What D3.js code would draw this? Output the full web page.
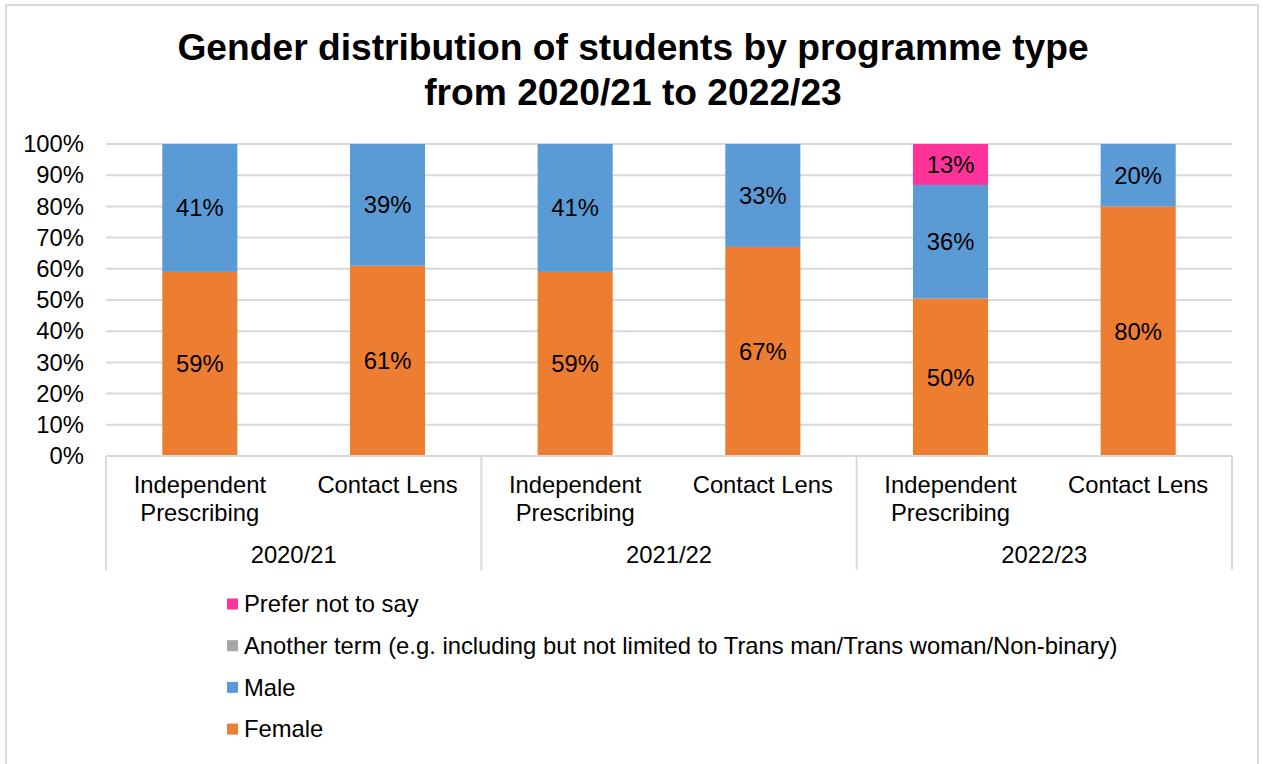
<!DOCTYPE html>
<html>
<head>
<meta charset="utf-8">
<script src="https://cdn.jsdelivr.net/npm/d3@7"></script>
<style>
  html, body { margin: 0; padding: 0; background: #fff; }
  svg { display: block; font-family: "Liberation Sans", Arial, sans-serif; }
</style>
</head>
<body>
<svg id="chart" width="1263" height="764"></svg>
<script>
// Chart data
const titleLines = ["Gender distribution of students by programme type", "from 2020/21 to 2022/23"];
const years = ["2020/21", "2021/22", "2022/23"];
const programmes = [["Independent", "Prescribing"], ["Contact Lens"]];
const female = [59, 61, 59, 67, 50, 80];
const male = [41, 39, 41, 33, 36, 20];
const anotherTerm = [0, 0, 0, 0, 0, 0];
const preferNotToSay = [0, 0, 0, 0, 13, 0];
const seriesNames = ["Female", "Male", "Another term (e.g. including but not limited to Trans man/Trans woman/Non-binary)", "Prefer not to say"];
const seriesColors = ["#ED7D31", "#5B9BD5", "#A5A5A5", "#FF3399"];
const yTicks = [0, 0.1, 0.2, 0.3, 0.4, 0.5, 0.6, 0.7, 0.8, 0.9, 1];

// One row per bar (year x programme)
const rows = [];
years.forEach((yr, yi) => {
  programmes.forEach((prog, pi) => {
    const i = yi * programmes.length + pi;
    rows.push({
      id: i, year: yr, programme: prog,
      [seriesNames[0]]: female[i],
      [seriesNames[1]]: male[i],
      [seriesNames[2]]: anotherTerm[i],
      [seriesNames[3]]: preferNotToSay[i]
    });
  });
});

const svg = d3.select("#chart");
const plotLeft = 106, plotRight = 1232, plotTop = 144, plotBottom = 456;
const gridColor = "#d9d9d9";
const fontSize = 23.8;

// Outer frame
svg.append("rect")
  .attr("x", 6).attr("y", 5).attr("width", 1252).attr("height", 800)
  .attr("fill", "#fff").attr("stroke", gridColor).attr("stroke-width", 2);

// Title
svg.append("g").selectAll("text").data(titleLines).join("text")
  .attr("x", 633).attr("y", (d, i) => 60 + i * 45)
  .attr("text-anchor", "middle")
  .attr("font-weight", "bold").attr("font-size", 37.2).attr("fill", "#000")
  .text(d => d);

const x = d3.scaleBand().domain(rows.map(r => r.id)).range([plotLeft, plotRight])
  .paddingInner(0.6).paddingOuter(0.3);
const y = d3.scaleLinear().domain([0, 1]).range([plotBottom, plotTop]);

// Gridlines
svg.append("g").selectAll("line").data(yTicks.slice(1)).join("line")
  .attr("x1", plotLeft).attr("x2", plotRight)
  .attr("y1", d => y(d)).attr("y2", d => y(d))
  .attr("stroke", gridColor).attr("stroke-width", 2);

// Y axis labels
const yAxis = d3.axisLeft(y).tickValues(yTicks).tickFormat(d3.format(".0%")).tickSize(0).tickPadding(22);
const yg = svg.append("g").attr("transform", `translate(${plotLeft},0)`).call(yAxis);
yg.select(".domain").remove();
yg.selectAll("text").attr("font-size", fontSize).attr("fill", "#000")
  .attr("font-family", "Liberation Sans, Arial, sans-serif");

// 100% stacked bars
const stack = d3.stack().keys(seriesNames).offset(d3.stackOffsetExpand);
const layers = stack(rows);

const layerG = svg.append("g").selectAll("g").data(layers).join("g")
  .attr("fill", (d, i) => seriesColors[i]);
layerG.selectAll("rect").data(d => d.filter(s => s[1] > s[0])).join("rect")
  .attr("x", d => x(d.data.id))
  .attr("width", x.bandwidth())
  .attr("y", d => y(d[1]))
  .attr("height", d => y(d[0]) - y(d[1]));

// Data labels
const labelG = svg.append("g");
layers.forEach(layer => {
  labelG.append("g").selectAll("text").data(layer.filter(s => s[1] > s[0])).join("text")
    .attr("x", d => x(d.data.id) + x.bandwidth() / 2)
    .attr("y", d => (y(d[0]) + y(d[1])) / 2)
    .attr("dy", "0.35em")
    .attr("text-anchor", "middle")
    .attr("font-size", fontSize).attr("fill", "#000")
    .text(d => d.data[layer.key] + "%");
});

// Category axis: baseline and group separators
svg.append("line").attr("x1", plotLeft).attr("x2", plotRight).attr("y1", plotBottom).attr("y2", plotBottom)
  .attr("stroke", gridColor).attr("stroke-width", 2);
const groupEdges = d3.range(years.length + 1).map(i => plotLeft + (plotRight - plotLeft) * i / years.length);
svg.append("g").selectAll("line").data(groupEdges).join("line")
  .attr("x1", d => d).attr("x2", d => d)
  .attr("y1", plotBottom).attr("y2", 570)
  .attr("stroke", gridColor).attr("stroke-width", 2);

// Programme labels
const catText = svg.append("g").selectAll("text").data(rows).join("text")
  .attr("x", d => x(d.id) + x.bandwidth() / 2)
  .attr("y", 485)
  .attr("text-anchor", "middle")
  .attr("font-size", fontSize).attr("fill", "#000");
catText.selectAll("tspan").data(d => d.programme.map(t => ({ t, cx: x(d.id) + x.bandwidth() / 2 }))).join("tspan")
  .attr("x", d => d.cx)
  .attr("dy", (d, i) => i === 0 ? "0.35em" : "1.17em")
  .text(d => d.t);

// Year labels
svg.append("g").selectAll("text").data(years).join("text")
  .attr("x", (d, i) => (groupEdges[i] + groupEdges[i + 1]) / 2)
  .attr("y", 555).attr("dy", "0.35em")
  .attr("text-anchor", "middle")
  .attr("font-size", fontSize).attr("fill", "#000")
  .text(d => d);

// Legend (top-most series first)
const legendItems = seriesNames.map((n, i) => ({ name: n, color: seriesColors[i] })).reverse();
const lg = svg.append("g").selectAll("g").data(legendItems).join("g")
  .attr("transform", (d, i) => `translate(227,${604 + i * 41.7})`);
lg.append("rect").attr("x", 0).attr("y", -5.5).attr("width", 11).attr("height", 11)
  .attr("fill", d => d.color);
lg.append("text").attr("x", 17).attr("dy", "0.35em")
  .attr("font-size", fontSize).attr("fill", "#000")
  .text(d => d.name);
</script>
</body>
</html>
